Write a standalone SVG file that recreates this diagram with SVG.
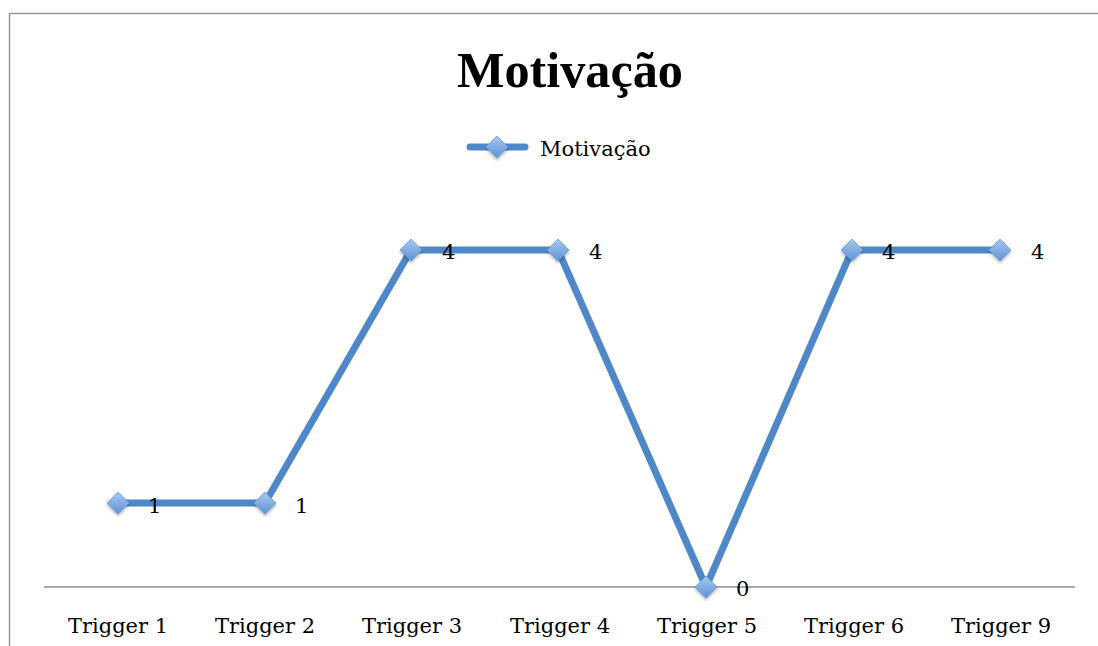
<svg xmlns="http://www.w3.org/2000/svg" width="1098" height="646" viewBox="0 0 1098 646">
<style>
.lbl{font-family:"DejaVu Serif","Liberation Serif",serif;font-size:21px;fill:#000}
.cat{font-family:"DejaVu Serif","Liberation Serif",serif;font-size:21px;fill:#000;text-anchor:middle}
.series{fill:none;stroke:#4f88c8;stroke-width:7;stroke-linejoin:round;stroke-linecap:round}
</style>
<defs>
<linearGradient id="dg" x1="0" y1="0" x2="0" y2="1">
<stop offset="0" stop-color="#a8c8f0"/>
<stop offset="1" stop-color="#5d93d6"/>
</linearGradient>
<filter id="sh" x="-50%" y="-50%" width="200%" height="200%">
<feDropShadow dx="0" dy="2" stdDeviation="1.5" flood-color="#000" flood-opacity="0.3"/>
</filter>
<path id="dm" d="M0,-11 L11,0 L0,11 L-11,0 Z" fill="url(#dg)" stroke="#6a9ddc" stroke-width="0.8" filter="url(#sh)"/>
</defs>
<rect width="1098" height="646" fill="#fff"/>
<path d="M9.5,646 L9.5,13.5 L1098,13.5" fill="none" stroke="#9a9a9a" stroke-width="1.5"/>
<g id="title"><text x="570" y="87" text-anchor="middle" font-family="Liberation Serif, serif" font-weight="bold" font-size="51" textLength="226" lengthAdjust="spacingAndGlyphs">Motivação</text></g>
<g id="legend">
<line x1="470" y1="147" x2="525" y2="147" class="series"/>
<use href="#dm" x="497" y="147"/>
<text x="540" y="156" class="lbl" font-size="20.5">Motivação</text>
</g>
<g id="axis">
<line x1="44" y1="587" x2="1075" y2="587" stroke="#8c8c8c" stroke-width="1.5"/>
<text class="cat" x="118" y="633">Trigger 1</text>
<text class="cat" x="265" y="633">Trigger 2</text>
<text class="cat" x="412" y="633">Trigger 3</text>
<text class="cat" x="560" y="633">Trigger 4</text>
<text class="cat" x="707" y="633">Trigger 5</text>
<text class="cat" x="854" y="633">Trigger 6</text>
<text class="cat" x="1001" y="633">Trigger 9</text>
</g>
<g id="connectors">
<polyline class="series" points="118,503 265,503 411,250 558,250 706,587 852,250 1000,250"/>
</g>
<g id="points">
<use href="#dm" x="118" y="503"/>
<use href="#dm" x="265" y="503"/>
<use href="#dm" x="411" y="250"/>
<use href="#dm" x="558" y="250"/>
<use href="#dm" x="706" y="587"/>
<use href="#dm" x="852" y="250"/>
<use href="#dm" x="1000" y="250"/>
</g>
<g id="values">
<text class="lbl" x="148" y="513">1</text>
<text class="lbl" x="295" y="513">1</text>
<text class="lbl" x="442" y="259">4</text>
<text class="lbl" x="589" y="259">4</text>
<text class="lbl" x="736" y="596">0</text>
<text class="lbl" x="882" y="259">4</text>
<text class="lbl" x="1031" y="259">4</text>
</g>
</svg>
